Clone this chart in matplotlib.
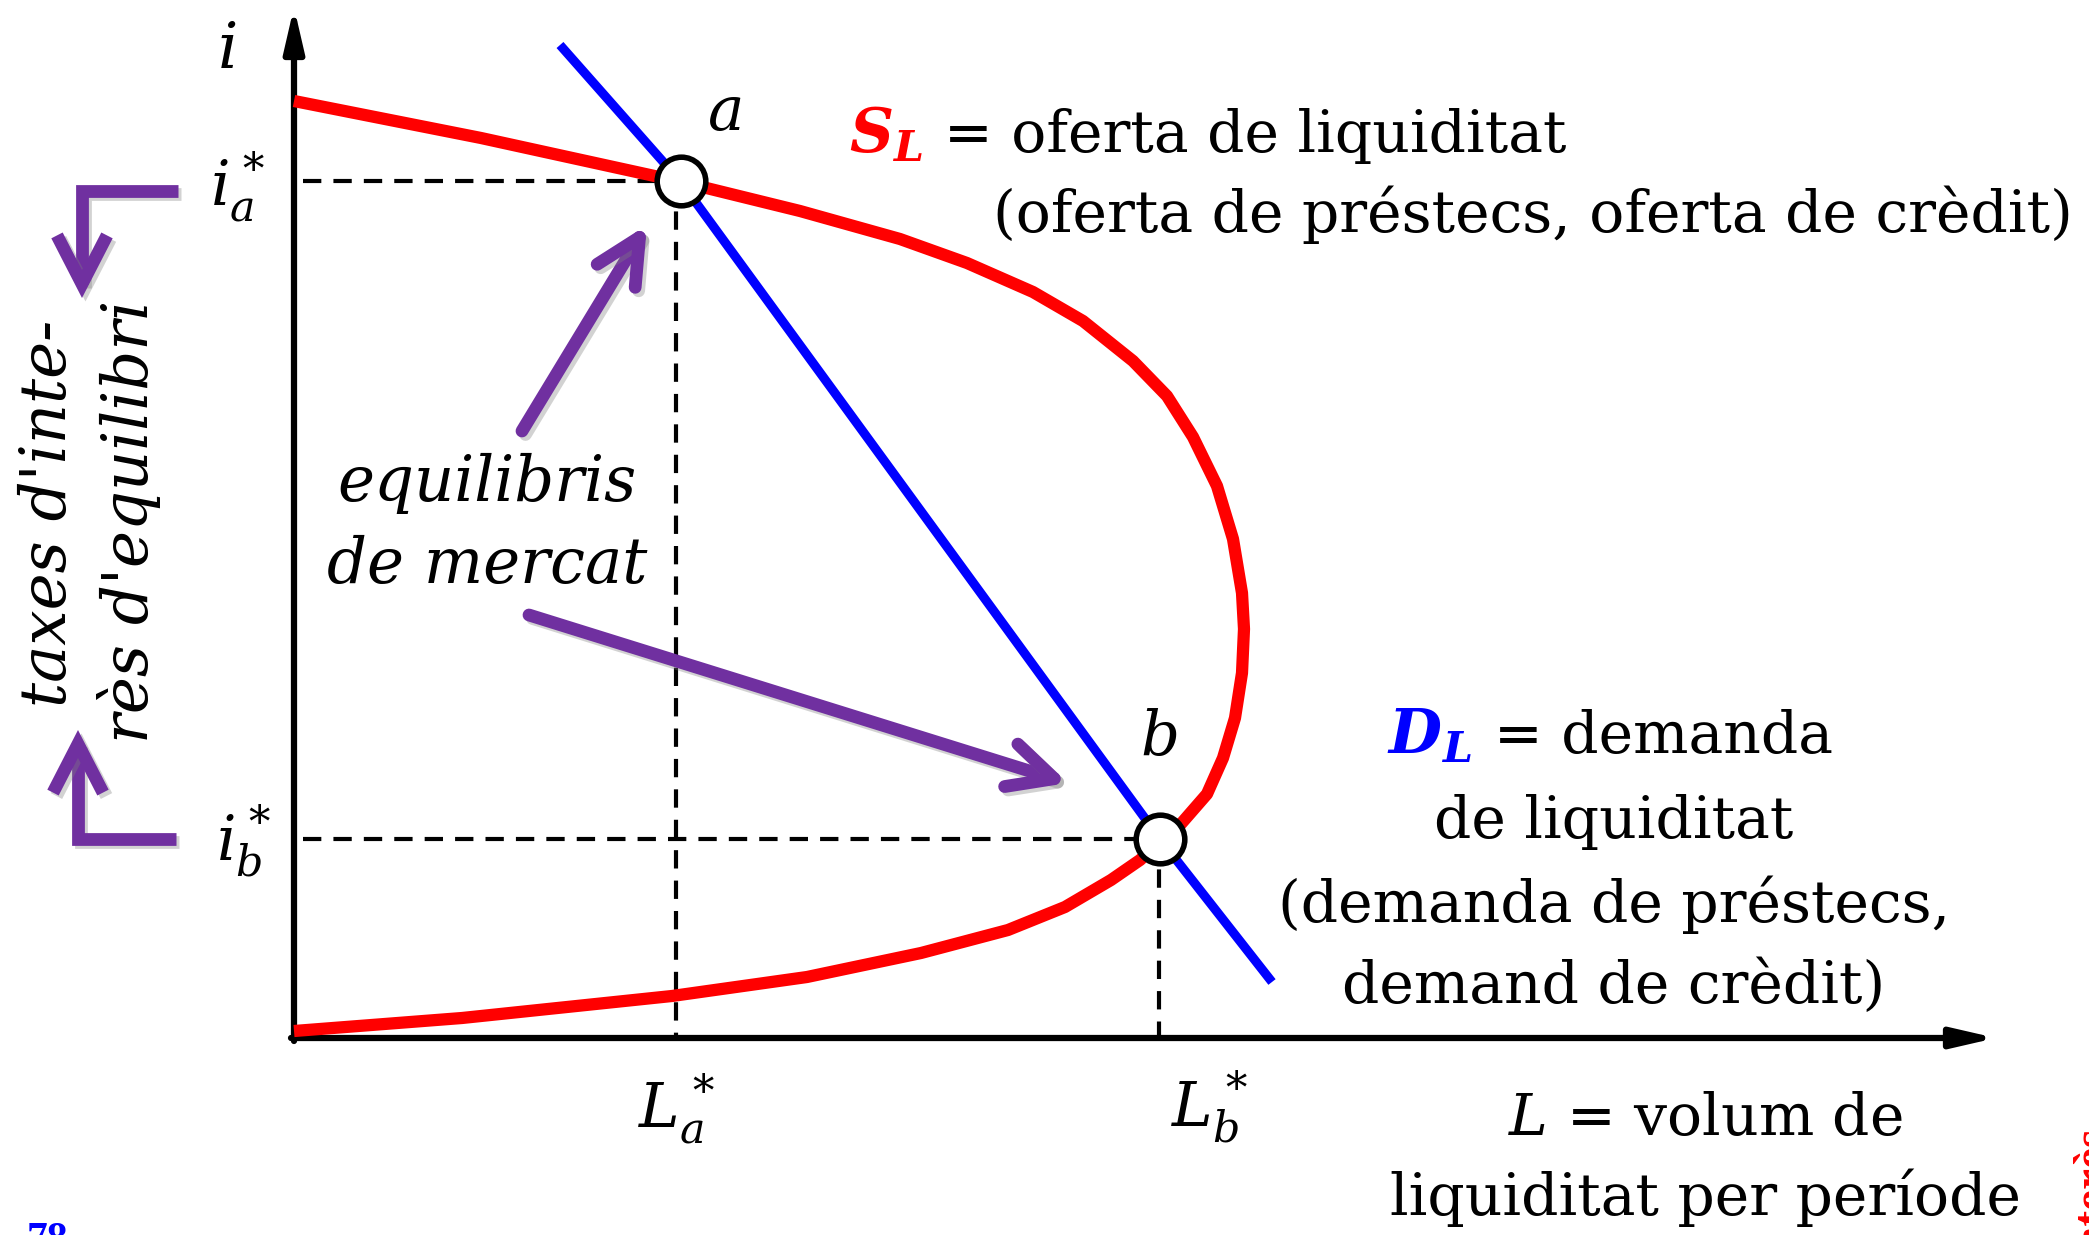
import matplotlib
matplotlib.use("Agg")
import matplotlib.pyplot as plt
from matplotlib.patches import FancyArrowPatch
from matplotlib.path import Path
import matplotlib.patheffects as pe

plt.rcParams['mathtext.fontset'] = 'custom'
plt.rcParams['mathtext.rm'] = 'DejaVu Serif'
plt.rcParams['mathtext.it'] = 'DejaVu Serif:italic'
plt.rcParams['mathtext.bf'] = 'DejaVu Serif:italic:bold'

# ---------------- data ----------------
# Supply of liquidity S_L (backward-bending curve), L vs i
supply_L = [0.00, 1.87, 3.88, 5.06, 6.06, 6.73, 7.39, 7.89, 8.39, 8.73, 8.99,
            9.23, 9.39, 9.48, 9.50, 9.48, 9.41, 9.29, 9.13, 8.86, 8.66, 8.46,
            8.17, 7.71, 7.14, 6.27, 5.13, 3.78, 1.68, 0.00]
supply_i = [9.37, 9.00, 8.56, 8.27, 7.99, 7.75, 7.46, 7.17, 6.77, 6.42, 6.01,
            5.52, 4.99, 4.45, 4.09, 3.65, 3.20, 2.80, 2.44, 2.13, 1.96, 1.78,
            1.58, 1.31, 1.08, 0.85, 0.61, 0.42, 0.20, 0.07]
# Demand of liquidity D_L
demand_L = [2.66, 3.87, 8.66, 9.78]
demand_i = [9.93, 8.56, 1.99, 0.56]
# equilibria a and b
eq_names = ['a', 'b']
eq_L = [3.87, 8.66]
eq_i = [8.57, 1.99]
eq_L_dash = [3.82, 8.65]
PURPLE = '#7030A0'

fig = plt.figure(figsize=(20.89, 12.35), dpi=100)
ax = fig.add_axes([0, 0, 1, 1])
ax.set_xlim(-2.94, 17.95)
ax.set_ylim(-1.97, 10.38)
ax.axis('off')

# axes with arrows
axprops = dict(arrowstyle='-|>,head_length=1.3,head_width=0.3', lw=4.5,
               color='black', shrinkA=0, shrinkB=0, mutation_scale=20)
ax.annotate('', xy=(0, 10.31), xytext=(0, -0.03), arrowprops=axprops)
ax.annotate('', xy=(17.02, 0), xytext=(-0.03, 0), arrowprops=axprops)

# dashed guide lines
dash = dict(color='black', lw=3.0, linestyle=(0, (4.4, 2.9)), zorder=2)
for Ld, Lc, ic in zip(eq_L_dash, eq_L, eq_i):
    ax.plot([0.09, Lc], [ic, ic], **dash)
    ax.plot([Ld, Ld], [ic, 0], **dash)

# curves
ax.plot(supply_L, supply_i, color='#FF0000', lw=8.8, solid_joinstyle='round',
        solid_capstyle='butt', zorder=3)
ax.plot(demand_L, demand_i, color='#0000FF', lw=6.6, solid_capstyle='butt', zorder=4)

# equilibrium circles
ax.plot(eq_L, eq_i, 'o', ms=35, mfc='white', mec='black', mew=4.0, zorder=6)

# purple arrows
shadow = [pe.SimpleLineShadow(offset=(2.5, -2.5), shadow_color='gray', alpha=0.35), pe.Normal()]
for (x0, y0), (x1, y1) in [((2.28, 6.07), (3.53, 8.13)), ((2.35, 4.23), (7.74, 2.55))]:
    ar = FancyArrowPatch((x0, y0), (x1, y1),
                         arrowstyle='->,head_length=1.62,head_width=0.8',
                         mutation_scale=20, lw=9.2, color=PURPLE,
                         capstyle='round', joinstyle='round',
                         shrinkA=0, shrinkB=0, path_effects=shadow, zorder=5)
    ax.add_patch(ar)

for verts in [[(-1.16, 8.47), (-2.12, 8.47), (-2.12, 7.40)],
              [(-1.18, 1.99), (-2.16, 1.99), (-2.16, 3.08)]]:
    br = FancyArrowPatch(path=Path(verts),
                         arrowstyle='->,head_length=1.75,head_width=0.9',
                         mutation_scale=20, lw=9.2, color=PURPLE,
                         capstyle='butt', joinstyle='miter',
                         path_effects=shadow, zorder=5)
    ax.add_patch(br)

# ---------------- texts ----------------
MAIN = dict(family='DejaVu Serif', fontsize=42, va='baseline')
MATH = 44
ITAL = dict(family='DejaVu Serif', style='italic', fontsize=45, va='baseline')

ax.text(-0.67, 9.70, r'$i$', fontsize=46, ha='center', va='baseline')
ax.text(-0.84, 8.33, r'$i_a^*$', fontsize=MATH, ha='left', va='baseline')
ax.text(-0.78, 1.77, r'$i_b^*$', fontsize=MATH, ha='left', va='baseline')
ax.text(3.44, -0.89, r'$L_a^*$', fontsize=MATH, ha='left', va='baseline')
ax.text(8.77, -0.89, r'$L_b^*$', fontsize=MATH, ha='left', va='baseline')
ax.text(4.30, 9.08, r'$a$', fontsize=MATH, ha='center', va='baseline')
ax.text(8.65, 2.83, r'$b$', fontsize=MATH, ha='center', va='baseline')

ax.text(5.55, 8.86, r'$\mathbf{S_L}$', color='#FF0000', fontsize=MATH, ha='left', va='baseline')
ax.text(6.50, 8.86, '= oferta de liquiditat', ha='left', **MAIN)
ax.text(6.99, 8.06, '(oferta de préstecs, oferta de crèdit)', ha='left', **MAIN)

ax.text(10.93, 2.85, r'$\mathbf{D_L}$', color='#0000FF', fontsize=MATH, ha='left', va='baseline')
ax.text(12.00, 2.85, '= demanda', ha='left', **MAIN)
ax.text(13.20, 2.00, 'de liquiditat', ha='center', **MAIN)
ax.text(13.20, 1.16, '(demanda de préstecs,', ha='center', **MAIN)
ax.text(13.20, 0.35, 'demand de crèdit)', ha='center', **MAIN)

ax.text(14.11, -0.97, r'$L$ = volum de', ha='center', **MAIN)
ax.text(14.11, -1.77, 'liquiditat per període', ha='center', **MAIN)

ax.text(1.93, 5.37, 'equilibris', ha='center', **ITAL)
ax.text(1.93, 4.55, 'de mercat', ha='center', **ITAL)

ax.text(-2.28, 5.25, "taxes d'inte-", rotation=90, rotation_mode='anchor', ha='center', **ITAL)
ax.text(-1.46, 5.17, "rès d'equilibri", rotation=90, rotation_mode='anchor', ha='center', **ITAL)

ax.text(-2.67, -1.84, '78', color='#0000FF', family='Liberation Serif', weight='bold',
        fontsize=30, ha='left', va='top')
ax.text(17.79, -0.90, "interès", color='#FF0000', family='Liberation Serif', weight='bold',
        fontsize=34, rotation=90, rotation_mode='anchor', ha='right', va='top')

fig.savefig('out.png', dpi=100)
